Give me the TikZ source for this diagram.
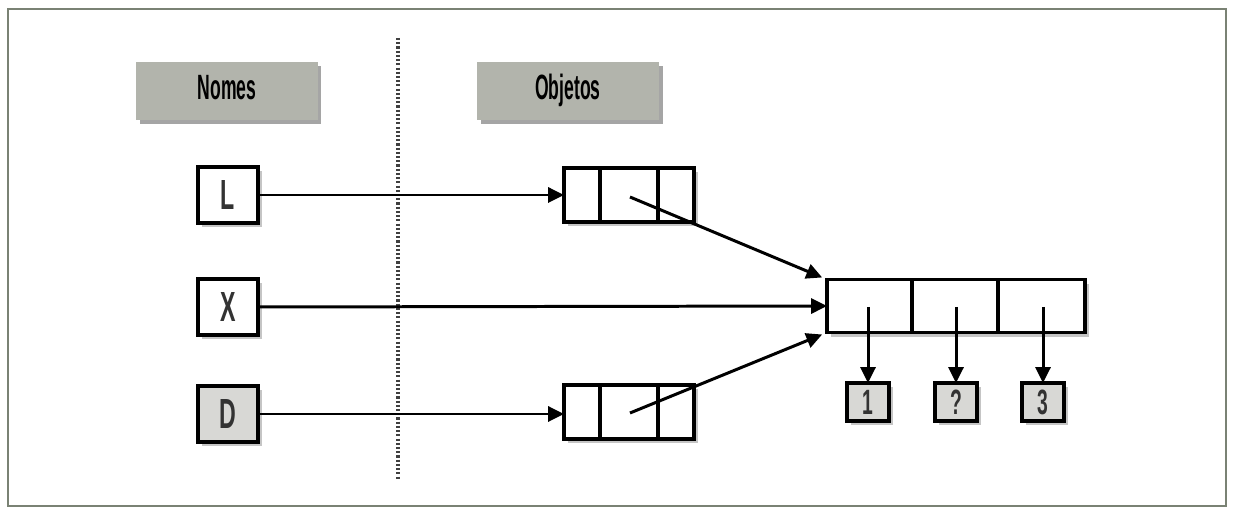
\documentclass[tikz,border=0pt]{standalone}
\usepackage{fontspec}
\setmainfont{Liberation Sans}[FakeStretch=0.55]
\newfontfamily\headfont{Liberation Sans}[FakeStretch=0.5]
\usepackage{tikz}
\usetikzlibrary{positioning,arrows.meta,shadows}
\definecolor{headgray}{RGB}{178,180,172}
\definecolor{cellgray}{RGB}{216,216,213}
\definecolor{framegray}{RGB}{122,130,116}

\begin{document}
\begin{tikzpicture}[x=0.02cm,y=-0.02cm,
    headbox/.style={fill=headgray,minimum width=3.64cm,minimum height=1.16cm,inner sep=0pt,
        text height=14pt,text depth=4pt,
        font=\headfont\bfseries\fontsize{20}{22}\selectfont,
        drop shadow={shadow xshift=2pt,shadow yshift=-2.5pt,fill=black!70}},
    namebox/.style={draw,line width=2pt,fill=white,minimum width=1.2cm,minimum height=1.12cm,
        inner sep=0pt,outer sep=0pt,text=black!80,font=\bfseries\fontsize{24}{26}\selectfont,
        drop shadow={shadow xshift=2.5pt,shadow yshift=-2.5pt,fill=black!45}},
    objbox/.style={draw,line width=2pt,fill=white,minimum width=2.6cm,minimum height=1.08cm,
        inner sep=0pt,outer sep=0pt,
        drop shadow={shadow xshift=2.5pt,shadow yshift=-2.5pt,fill=black!45}},
    valbox/.style={namebox,fill=cellgray,minimum width=0.84cm,minimum height=0.76cm,
        font=\bfseries\fontsize{20}{22}\selectfont},
    ptr/.style={line width=1.7pt,-{Triangle[length=9pt,width=8.5pt]}}]

    \useasboundingbox (0,0) rectangle (1234,509);
    \draw[framegray,line width=1.6pt] (8,9) rectangle (1226,506);
    \draw[black!75,line width=1.8pt,dash pattern=on 1.2pt off 1.2pt] (398,38) -- (398,480);

    \node[headbox] (nomes) at (227,91) {Nomes};
    \node[headbox] (objetos) at (568,91) {Objetos};

    \node[namebox] (L) at (228,195) {L};
    \node[namebox] (X) at (228,307) {X};
    \node[namebox,fill=cellgray] (D) at (228,414) {D};

    \node[objbox] (objA) at (629,195) {};
    \node[objbox] (objB) at (629,412) {};
    \node[objbox,minimum width=5.16cm,minimum height=1.06cm] (lista) at (956,306) {};
    \foreach \o in {objA,objB}{
        \draw[line width=2pt] (\o.north west) ++(36,0) -- ++(0,54);
        \draw[line width=2pt] (\o.north west) ++(94,0) -- ++(0,54);
    }
    \draw[line width=2pt] (lista.north west) ++(85,0) -- ++(0,53);
    \draw[line width=2pt] (lista.north west) ++(171,0) -- ++(0,53);

    \node[valbox] (v1) at (868,402) {1};
    \node[valbox] (v2) at (956,402) {?};
    \node[valbox] (v3) at (1043,402) {3};

    \coordinate (pa) at (630,197);
    \coordinate (pb) at (630,413);
    \coordinate (c1) at (868,307);
    \coordinate (c2) at (956,307);
    \coordinate (c3) at (1043,307);

    \draw[ptr] (L.east) -- (objA.west);
    \draw[ptr] (X.east) -- (lista.west);
    \draw[ptr] (D.east) -- (D.east -| objB.west);
    \draw[ptr,shorten >=3pt] (pa) -- (lista.north west);
    \draw[ptr,shorten >=3pt] (pb) -- (lista.south west);
    \draw[ptr] (c1) -- (v1.north);
    \draw[ptr] (c2) -- (v2.north);
    \draw[ptr] (c3) -- (v3.north);

\end{tikzpicture}
\end{document}
